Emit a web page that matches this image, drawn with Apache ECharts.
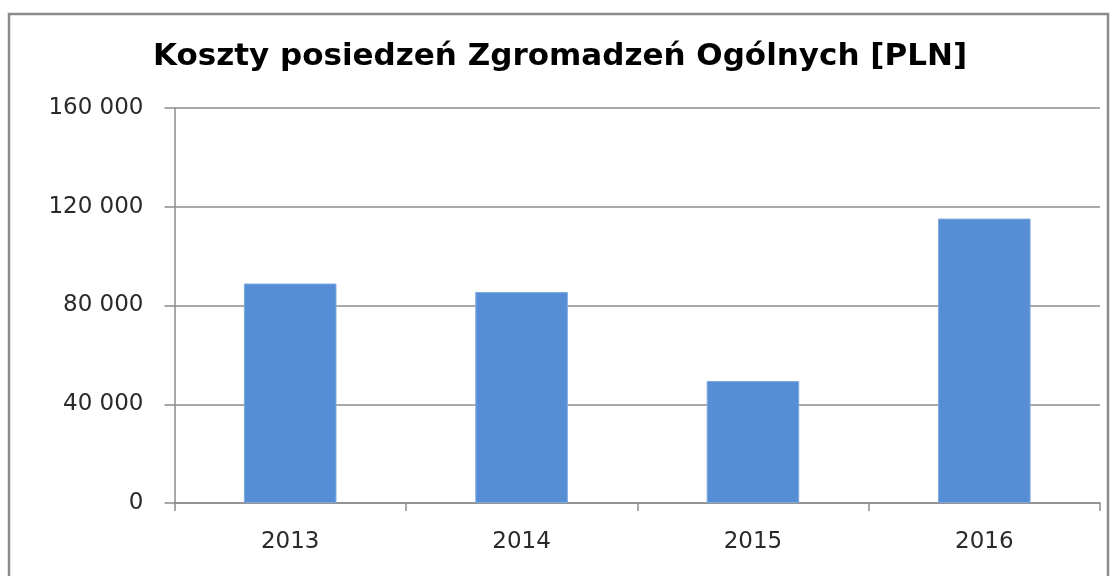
<!DOCTYPE html>
<html>
<head>
<meta charset="utf-8">
<script src="https://cdn.jsdelivr.net/npm/echarts@6/dist/echarts.min.js"></script>
<style>
    html, body { margin: 0; padding: 0; background: #fff; }
    #chart { width: 1120px; height: 576px; }
</style>
</head>
<body>
<div id="chart"></div>
<script>
const years = ['2013', '2014', '2015', '2016'];
const costs = [88900, 85500, 49400, 115200];
const yTicks = { min: 0, max: 160000, interval: 40000 };

const chart = echarts.init(document.getElementById('chart'));

const option = {
    animation: false,
    backgroundColor: '#fff',
    title: {
        text: 'Koszty posiedzeń Zgromadzeń Ogólnych [PLN]',
        left: 'center',
        top: 36,
        textStyle: {
            fontFamily: 'DejaVu Sans',
            fontWeight: 'bold',
            fontSize: 31,
            color: '#000'
        }
    },
    graphic: [
        {
            type: 'rect',
            shape: { x: 9, y: 14, width: 1099, height: 600 },
            style: { fill: 'none', stroke: '#8a8a8a', lineWidth: 2.5 },
            silent: true
        }
    ],
    grid: {
        left: 174.5,
        right: 20,
        top: 108,
        bottom: 73
    },
    xAxis: {
        type: 'category',
        data: years,
        axisLine: { lineStyle: { color: '#8c8c8c', width: 1.5 } },
        axisTick: { show: true, length: 8, alignWithLabel: false, lineStyle: { color: '#8c8c8c', width: 1.5 } },
        axisLabel: {
            margin: 28,
            fontFamily: 'DejaVu Sans',
            fontSize: 23,
            color: '#2a2a2a'
        }
    },
    yAxis: {
        type: 'value',
        min: yTicks.min,
        max: yTicks.max,
        interval: yTicks.interval,
        axisLine: { show: true, lineStyle: { color: '#8c8c8c', width: 1.5 } },
        axisTick: { show: true, length: 10, lineStyle: { color: '#8c8c8c', width: 1.5 } },
        splitLine: { lineStyle: { color: '#8c8c8c', width: 1.5 } },
        axisLabel: {
            margin: 31,
            fontFamily: 'DejaVu Sans',
            fontSize: 23,
            color: '#2a2a2a',
            formatter: function (v) {
                return String(v).replace(/\B(?=(\d{3})+(?!\d))/g, ' ');
            }
        }
    },
    series: [
        {
            type: 'bar',
            data: costs,
            barWidth: '40%',
            itemStyle: { color: '#558ed5', borderColor: '#7fa9de', borderWidth: 1 }
        }
    ]
};

chart.setOption(option);

window.addEventListener('resize', function () {
    chart.resize();
});
</script>
</body>
</html>
